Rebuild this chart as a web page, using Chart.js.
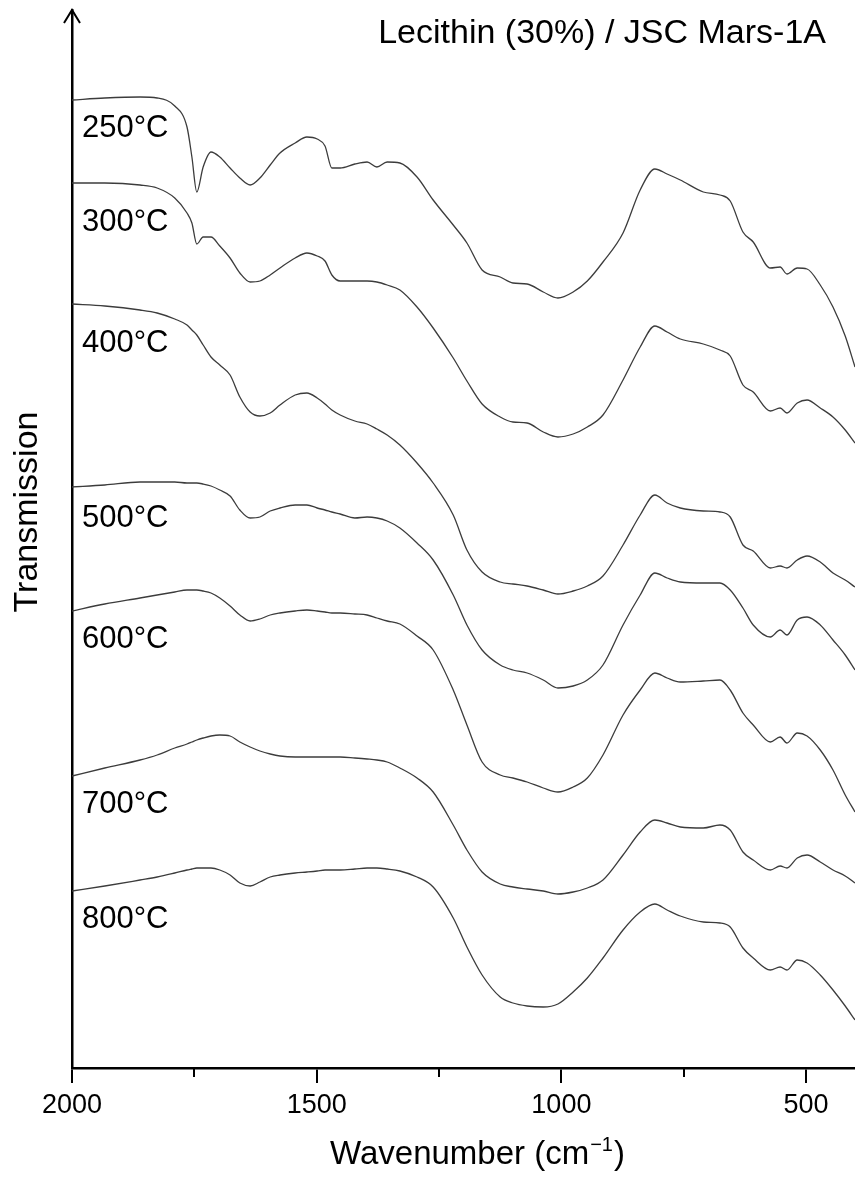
<!DOCTYPE html>
<html>
<head>
<meta charset="utf-8">
<title>Lecithin (30%) / JSC Mars-1A</title>
<script src="https://cdn.jsdelivr.net/npm/chart.js@4.4.1/dist/chart.umd.min.js"></script>
<style>
  html, body { margin: 0; padding: 0; background: #fff; }
  #wrap { width: 855px; height: 1177px; }
</style>
</head>
<body>
<div id="wrap"><canvas id="ftir" width="855" height="1177"></canvas></div>
<script>
const wavenumbers = [2000, 1933, 1861, 1826, 1790, 1765, 1755, 1745, 1732, 1716,
  1698, 1677, 1657, 1636, 1616, 1595, 1575, 1544, 1520, 1499,
  1483, 1469, 1452, 1422, 1397, 1377, 1356, 1330, 1295, 1262,
  1221, 1193, 1162, 1125, 1099, 1070, 1037, 1007, 976, 947,
  915, 874, 839, 809, 784, 757, 710, 676, 655, 629,
  608, 573, 553, 539, 518, 498, 471, 445, 420, 400];

// transmission, arbitrary units (spectra are stacked with offsets)
const t250 = [970, 972, 973, 972, 964, 943, 913, 878, 903, 918,
  913, 902, 892, 885, 892, 905, 917, 927, 933, 931,
  924, 902, 902, 906, 908, 903, 908, 907, 893, 870,
  845, 827, 800, 793, 787, 786, 778, 772, 778, 789,
  808, 837, 880, 901, 896, 890, 878, 875, 869, 838,
  828, 802, 803, 796, 802, 801, 785, 763, 734, 703];
const t300 = [887, 887, 885, 882, 872, 857, 847, 826, 833, 833,
  824, 812, 797, 788, 789, 795, 802, 812, 817, 814,
  809, 795, 789, 789, 789, 788, 785, 780, 763, 742,
  712, 689, 666, 653, 648, 647, 638, 633, 636, 643,
  655, 690, 723, 744, 738, 731, 726, 720, 714, 685,
  678, 659, 662, 657, 667, 670, 662, 653, 640, 627];
const t400 = [766, 764, 760, 757, 751, 745, 740, 735, 725, 713,
  705, 695, 673, 658, 654, 657, 665, 675, 677, 672,
  666, 660, 655, 649, 646, 641, 635, 625, 607, 587,
  555, 520, 498, 488, 486, 484, 480, 476, 479, 484,
  494, 525, 555, 575, 567, 562, 559, 558, 553, 525,
  519, 502, 504, 502, 510, 514, 508, 497, 490, 483];
const t500 = [583, 585, 588, 588, 588, 587, 587, 587, 586, 584,
  580, 574, 560, 552, 553, 559, 562, 565, 565, 562,
  560, 558, 556, 552, 553, 552, 549, 542, 527, 510,
  475, 445, 420, 405, 400, 397, 390, 382, 384, 390,
  405, 445, 475, 497, 492, 488, 487, 487, 480, 462,
  445, 433, 440, 435, 450, 453, 445, 430, 415, 400];
const t600 = [459, 466, 472, 475, 478, 480, 480, 480, 479, 477,
  472, 464, 455, 449, 451, 455, 457, 459, 460, 459,
  458, 457, 457, 456, 455, 452, 449, 446, 434, 420,
  380, 345, 308, 295, 292, 288, 282, 278, 283, 292,
  315, 355, 380, 397, 392, 388, 389, 390, 380, 357,
  345, 328, 333, 327, 337, 334, 320, 300, 275, 258];
const t700 = [294, 302, 310, 315, 322, 326, 328, 330, 332, 334,
  335, 334, 328, 323, 319, 316, 314, 313, 313, 313,
  313, 313, 313, 312, 311, 310, 308, 302, 292, 278,
  245, 220, 198, 186, 183, 181, 179, 176, 178, 182,
  190, 215, 238, 250, 247, 243, 242, 245, 240, 218,
  210, 200, 204, 202, 212, 215, 208, 200, 194, 187];
const t800 = [179, 184, 190, 193, 197, 200, 201, 202, 202, 202,
  200, 195, 187, 184, 188, 193, 195, 197, 198, 199,
  200, 200, 200, 201, 202, 202, 201, 199, 193, 183,
  152, 123, 95, 73, 67, 64, 63, 66, 78, 92,
  112, 140, 158, 166, 160, 154, 148, 147, 143, 122,
  112, 100, 103, 100, 110, 107, 95, 80, 64, 50];

const temperatures = ['250°C', '300°C', '400°C', '500°C', '600°C', '700°C', '800°C'];
const spectra = [t250, t300, t400, t500, t600, t700, t800];
const majorTicks = [2000, 1500, 1000, 500];
const minorTicks = [1750, 1250, 750];

const FONT = '"Liberation Sans", Arial, sans-serif';

// text labels, axis arrow and minor ticks
var labelBaselines = [137, 231, 352, 527, 648, 813, 928];

var decorations = {
    id: 'decorations',
    afterDraw: function (chart) {
        var ctx = chart.ctx;
        var area = chart.chartArea;
        var xs = chart.scales.x;
        ctx.save();

        ctx.strokeStyle = '#000';
        ctx.lineWidth = 2;
        minorTicks.forEach(function (v) {
            var px = Math.round(xs.getPixelForValue(v));
            ctx.beginPath();
            ctx.moveTo(px, area.bottom);
            ctx.lineTo(px, area.bottom + 9);
            ctx.stroke();
        });

        // arrow head on the y axis
        ctx.beginPath();
        ctx.moveTo(area.left - 8, area.top + 13);
        ctx.lineTo(area.left, area.top);
        ctx.lineTo(area.left + 8, area.top + 13);
        ctx.stroke();

        ctx.fillStyle = '#000';
        ctx.textBaseline = 'alphabetic';
        ctx.textAlign = 'left';
        ctx.font = '31px ' + FONT;
        temperatures.forEach(function (t, i) {
            ctx.fillText(t, 82, labelBaselines[i]);
        });

        ctx.font = '34px ' + FONT;
        ctx.textAlign = 'right';
        ctx.fillText('Lecithin (30%) / JSC Mars-1A', 826, 43);

        // x axis title with superscript
        var base = 1164;
        var x0 = 330;
        ctx.textAlign = 'left';
        ctx.font = '33px ' + FONT;
        var part1 = 'Wavenumber (cm';
        ctx.fillText(part1, x0, base);
        x0 += ctx.measureText(part1).width + 1;
        ctx.font = '20px ' + FONT;
        ctx.fillText('\u22121', x0, base - 13);
        x0 += ctx.measureText('\u22121').width + 1;
        ctx.font = '33px ' + FONT;
        ctx.fillText(')', x0, base);

        ctx.translate(28, 512);
        ctx.rotate(-Math.PI / 2);
        ctx.font = '34px ' + FONT;
        ctx.textAlign = 'center';
        ctx.textBaseline = 'middle';
        ctx.fillText('Transmission', 0, 0);
        ctx.restore();
    }
};

var datasets = spectra.map(function (vals, i) {
    return {
        label: temperatures[i],
        data: wavenumbers.map(function (w, j) { return { x: w, y: vals[j] }; }),
        borderColor: '#3c3c3c',
        borderWidth: 1.3,
        pointRadius: 0,
        fill: false,
        cubicInterpolationMode: 'monotone'
    };
});

var chart = new Chart(document.getElementById('ftir').getContext('2d'), {
    type: 'line',
    data: { datasets: datasets },
    options: {
        responsive: false,
        animation: false,
        layout: { padding: { top: 10, right: 0, bottom: 0, left: 0 } },
        plugins: { legend: { display: false }, tooltip: { enabled: false } },
        scales: {
            x: {
                type: 'linear',
                reverse: true,
                min: 400,
                max: 2000,
                afterBuildTicks: function (s) {
                    s.ticks = majorTicks.map(function (v) { return { value: v }; });
                },
                afterFit: function (s) { s.height = 109; },
                ticks: {
                    autoSkip: false,
                    maxRotation: 0,
                    padding: 6,
                    color: '#000',
                    font: { family: FONT, size: 27 },
                    callback: function (v) { return String(v); }
                },
                grid: {
                    display: true,
                    drawOnChartArea: false,
                    drawTicks: true,
                    tickLength: 15,
                    color: '#000',
                    lineWidth: 2
                },
                border: { display: true, color: '#000', width: 2.5 },
                title: { display: false }
            },
            y: {
                min: 2,
                max: 1060,
                afterFit: function (s) { s.width = 72; },
                ticks: { display: false },
                grid: { display: false, drawTicks: false },
                border: { display: true, color: '#000', width: 2.5 }
            }
        }
    },
    plugins: [decorations]
});
</script>
</body>
</html>
